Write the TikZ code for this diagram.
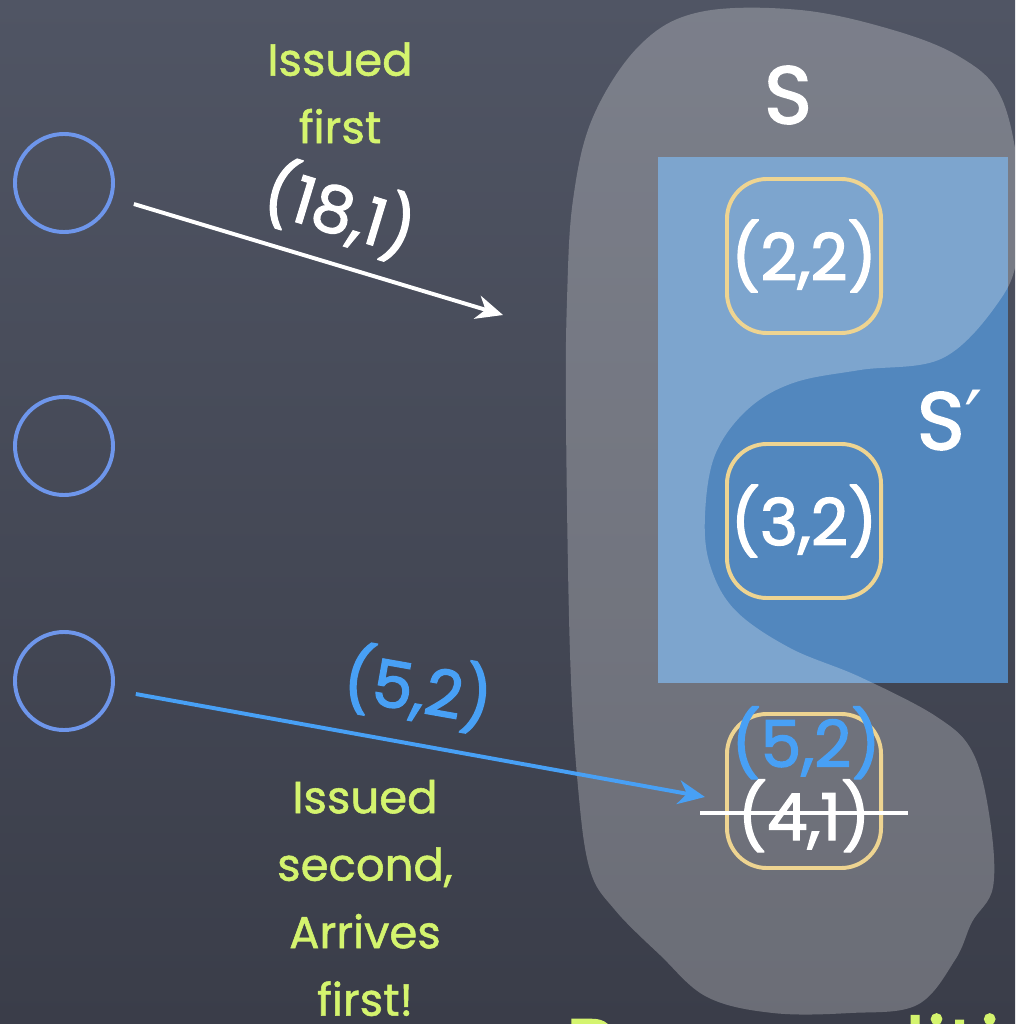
\documentclass[tikz,border=0pt]{standalone}
\usepackage{fontspec}
\setmainfont{Poppins}
\newfontfamily\chalkfont{Poppins}[FakeBold = 1.2]
\newfontfamily\boldchalk{Poppins}[FakeBold = 2]
\newfontfamily\primefont{DejaVu Sans}
\usepackage{tikz}
\usetikzlibrary{calc}
\usetikzlibrary{arrows.meta}
\usetikzlibrary{positioning}
\definecolor{boardtop}{RGB}{80,85,100}
\definecolor{boardbot}{RGB}{58,61,73}
\definecolor{procblue}{RGB}{110,150,235}
\definecolor{msgblue}{RGB}{72,160,245}
\definecolor{setblue}{RGB}{82,135,190}
\definecolor{gold}{RGB}{238,212,145}
\definecolor{chalk}{RGB}{212,244,110}
\tikzset{>={Stealth[length = 19pt, width = 17pt, inset = 6pt]}}
\tikzstyle{proc} = [circle, draw = procblue, line width = 2.8pt, minimum size = 2.45cm, inner sep = 0]
\tikzstyle{entry} = [rounded corners = 1cm, draw = gold, line width = 2.8pt, minimum size = 3.85cm, inner sep = 0]
\tikzstyle{val} = [text = white, font = \boldchalk\fontsize{46}{46}\selectfont, inner sep = 0]
\tikzstyle{note} = [text = chalk, align = center, font = \chalkfont\fontsize{32}{48}\selectfont, inner sep = 0]
\tikzstyle{msg} = [->, line width = 2.8pt]

\begin{document}
\begin{tikzpicture}[x = 0.025cm, y = -0.025cm]
\useasboundingbox (0, 0) rectangle (1015, 1024);
\clip (0, 0) rectangle (1015, 1024);
\shade [top color = boardtop, bottom color = boardbot] (0, 0) rectangle (1015, 1024);

% the sets
\fill [setblue] (658, 157) rectangle (1008, 683);
\fill [white, opacity = 0.25] plot [smooth cycle, tension = 0.6] coordinates {
  (640, 45) (700, 12) (800, 10) (893, 30) (960, 57) (1000, 95) (1018, 170)
  (1018, 250) (1000, 300) (943, 358) (860, 370) (793, 383) (747, 410)
  (715, 455) (705, 515) (710, 565) (735, 610) (790, 648) (860, 677)
  (937, 717) (973, 753) (990, 820) (993, 887) (972, 922) (955, 960)
  (917, 1005) (850, 1013) (773, 1013) (707, 997) (660, 955) (615, 910)
  (590, 870) (578, 787) (570, 653) (566, 420) (567, 300) (573, 200) (593, 117)};
\node [val, font = \boldchalk\fontsize{58}{58}\selectfont] (S) at (788, 95) {S};
\node [val, font = \boldchalk\fontsize{58}{58}\selectfont] (Sp) at (950, 420) {S{\primefont ′}};

% processes
\node [proc] (c1) at (64, 183) {};
\node [proc] (c2) at (64, 446) {};
\node [proc] (c3) at (64, 681) {};

% entries
\node [entry, val] (b22) at (804, 256) {(2,2)};
\node [entry, val] (b32) at (804, 521) {(3,2)};
\node [entry] (b41) at (804, 791) {};
\node [val, text = msgblue, anchor = base] (v52) at (806, 767) {(5,2)};
\node [val, anchor = base] (v41) at (804, 840) {(4,1)};
\draw [line width = 2.8pt, white] ($(v41.base) + (-104, -27)$) -- ($(v41.base) + (104, -27)$);

% messages
\coordinate (aim) at (503, 315);
\coordinate (hit) at (705, 797);
\draw [msg, draw = white, fill = white, shorten <= 0.55cm] (c1) -- (aim);
\draw [msg, draw = msgblue, fill = msgblue, shorten <= 0.55cm] (c3) -- (hit);
\node [val, rotate = -17] (m1) at (340, 210) {(18,1)};
\node [val, text = msgblue, rotate = -10] (m2) at (418, 688) {(5,2)};

\node [note] (first) at (340, 93) {Issued\\first};
\node [note] (second) at (365, 898) {Issued\\second,\\Arrives\\first!};
\node [text = chalk, anchor = base west, font = \chalkfont\fontsize{62}{62}\selectfont, inner sep = 0] (pre) at (565, 1080) {Preconditions};
\end{tikzpicture}
\end{document}
